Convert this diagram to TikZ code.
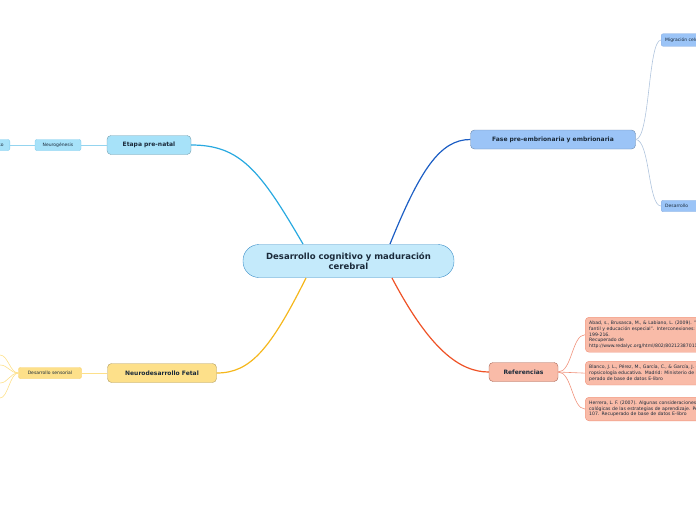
\documentclass[tikz,border=0pt]{standalone}
\usepackage{fontspec}
\setmainfont{DejaVu Sans}
\begin{document}
\begin{tikzpicture}[x=1pt,y=-1pt,
 main/.style={draw=#1!70!black,rounded corners=4pt,font=\fontsize{6}{7}\selectfont\bfseries,inner sep=0pt,minimum height=19pt,text=txt},
 sub/.style={draw=#1,rounded corners=2pt,font=\fontsize{4.5}{5.2}\selectfont,inner sep=0pt,minimum height=11pt,text=txt},
 subl/.style={draw=#1,rounded corners=2pt,font=\fontsize{4.5}{5.2}\selectfont,inner sep=4pt,minimum height=11pt,text=txt,anchor=west,text width=70pt,align=left},
 ref/.style={fill=refc,draw=refd,rounded corners=4pt,font=\fontsize{4.6}{5.6}\selectfont,align=left,anchor=north west,inner sep=4pt,text width=175pt,text=txt}]
\definecolor{txt}{HTML}{1A2A3A}
\definecolor{cen}{HTML}{C4EAFB}\definecolor{cenD}{HTML}{3B8FC8}
\definecolor{pre}{HTML}{A7E2F9}\definecolor{preL}{HTML}{29A9E0}
\definecolor{fase}{HTML}{9BC4F7}\definecolor{faseL}{HTML}{1C5EC4}
\definecolor{neu}{HTML}{FDE08A}\definecolor{neuL}{HTML}{F5B71C}
\definecolor{refc}{HTML}{F9BBA8}\definecolor{refd}{HTML}{F0917A}\definecolor{refL}{HTML}{EE5226}
\useasboundingbox (0,0) rectangle (696,520);
\clip (0,0) rectangle (696,520);
% central
\node[fill=cen,draw=cenD,rounded corners=16pt,minimum width=211pt,minimum height=33pt,align=center,font=\fontsize{8.5}{10}\selectfont\bfseries,text=txt] (c) at (348.5,261) {Desarrollo cognitivo y maduración\\cerebral};
% main nodes
\node[main=pre,fill=pre,minimum width=84pt] (pn) at (149,145) {Etapa pre-natal};
\node[main=fase,fill=fase,minimum width=165pt] (fa) at (553,139.5) {Fase pre-embrionaria y embrionaria};
\node[main=neu,fill=neu,minimum width=109pt] (nf) at (162,373) {Neurodesarrollo Fetal};
\node[main=refd,fill=refc,minimum width=69pt] (re) at (523.5,372) {Referencias};
% connectors
\draw[preL,line width=1.2pt] (303,244) .. controls (260,170) and (240,145) .. (pn.east);
\draw[faseL,line width=1.2pt] (390,244) .. controls (420,170) and (440,139.5) .. (fa.west);
\draw[neuL,line width=1.2pt] (306,278) .. controls (270,350) and (250,373) .. (nf.east);
\draw[refL,line width=1.2pt] (392,278) .. controls (430,350) and (460,372) .. (re.west);
% pre-natal subs
\node[sub=preL!60,fill=pre,minimum width=46pt] (ng) at (58,145) {Neurogénesis};
\node[sub=preL!60,fill=pre,minimum width=30pt,anchor=east] (pr) at (10,145) {Proceso};
\draw[preL!50,line width=0.8pt] (pn.west) -- (ng.east) (ng.west) -- (pr.east);
% fase subs
\node[subl=faseL!50,fill=fase] (mi) at (661,40) {Migración celular};
\node[subl=faseL!50,fill=fase] (de) at (661,206) {Desarrollo};
\draw[fase!80!black!60,line width=0.6pt] (fa.east) .. controls (650,139) and (648,40) .. (mi.west);
\draw[fase!80!black!60,line width=0.6pt] (fa.east) .. controls (650,140) and (648,206) .. (de.west);
% neuro subs
\node[sub=neuL!70,fill=neu,minimum width=63pt] (ds) at (50,373) {Desarrollo sensorial};
\draw[neu,line width=0.8pt] (nf.west) -- (ds.east);
\coordinate (n1) at (0,355);\coordinate (n2) at (0,365);\coordinate (n3) at (0,383);\coordinate (n4) at (0,398);
\foreach \n in {n1,n2,n3,n4}{\draw[neu,line width=0.6pt] (ds.west) .. controls (10,373) and ([xshift=8pt]\n) .. (\n);}
% references
\node[ref] (r1) at (585,317) {Abad, s., Brusasca, M., \& Labiano, L. (2009). "Neurociencia, educación infantil y educación especial". Interconexiones: Revista de la Educación, 199-216.\\Recuperado de\\http://www.redalyc.org/html/802/80212387011/};
\node[ref] (r2) at (585,361) {Blanco, J. L., Pérez, M., García, C., \& García, J. (2016). Neurociencia y neuropsicología educativa. Madrid: Ministerio de Educación de España. Recuperado de base de datos E-libro};
\node[ref] (r3) at (585,397) {Herrera, L. F. (2007). Algunas consideraciones sobre las bases neuropsicológicas de las estrategias de aprendizaje. Pedagogía Universitaria, 98 - 107. Recuperado de base de datos E-libro};
\foreach \r in {r1,r2,r3}{\draw[refd,line width=0.6pt] (re.east) .. controls (572,372) and ([xshift=-13pt]\r.west) .. (\r.west);}
\end{tikzpicture}
\end{document}
